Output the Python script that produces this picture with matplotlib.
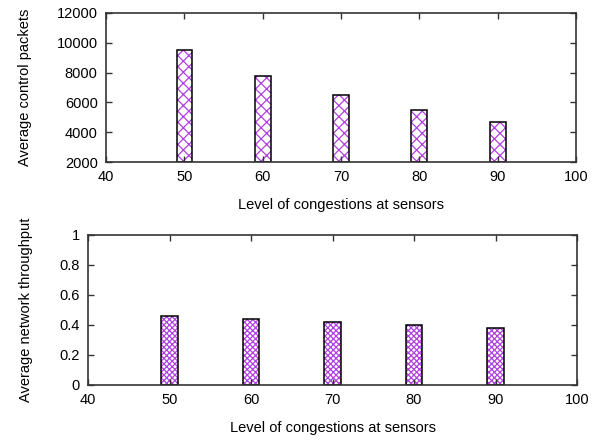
import matplotlib
matplotlib.use("Agg")
import matplotlib.pyplot as plt

plt.rcParams['font.family'] = ['Liberation Sans', 'DejaVu Sans']
plt.rcParams['hatch.linewidth'] = 0.9

congestion = [50, 60, 70, 80, 90]
control_packets = [9500, 7800, 6500, 5500, 4700]
throughput = [0.46, 0.44, 0.42, 0.40, 0.38]
x_ticks = [40, 50, 60, 70, 80, 90, 100]

HATCH_COLOR = '#b040e0'

fig = plt.figure(figsize=(6.01, 4.41), dpi=100)
W, H = 601, 441

def styled_axes(rect):
    ax = fig.add_axes([rect[0] / W, 1 - rect[3] / H, (rect[2] - rect[0]) / W, (rect[3] - rect[1]) / H])
    for s in ax.spines.values():
        s.set_linewidth(1.2)
        s.set_color('#333333')
    ax.tick_params(direction='in', top=True, right=True, labelsize=10.5, length=4, width=1, colors='#333333',
                   labelcolor='black', pad=6)
    ax.set_xlim(40, 100)
    ax.set_xticks(x_ticks)
    ax.set_xlabel('Level of congestions at sensors', fontsize=10.5, labelpad=10)
    return ax

def hatched_bars(ax, x, heights, bottom, hatch):
    # purple hatch fill, then a black outline drawn on top
    ax.bar(x, heights, bottom=bottom, width=2, color='white', edgecolor=HATCH_COLOR,
           linewidth=0, hatch=hatch)
    ax.bar(x, heights, bottom=bottom, width=2, fill=False, edgecolor='black', linewidth=1.1)

ax1 = styled_axes((106, 13, 576, 162))
hatched_bars(ax1, congestion, [v - 2000 for v in control_packets], 2000, 'xxx')
ax1.set_ylim(2000, 12000)
ax1.set_yticks([2000, 4000, 6000, 8000, 10000, 12000])
ax1.set_ylabel('Average control packets', fontsize=10.5, labelpad=18)

ax2 = styled_axes((88, 235, 577, 385))
hatched_bars(ax2, congestion, throughput, 0, 'xxxxxx')
ax2.set_ylim(0, 1)
ax2.set_yticks([0, 0.2, 0.4, 0.6, 0.8, 1])
ax2.set_yticklabels(['0', '0.2', '0.4', '0.6', '0.8', '1'])
ax2.set_ylabel('Average network throughput', fontsize=10.5, labelpad=19)

fig.savefig('out.png', dpi=100)
